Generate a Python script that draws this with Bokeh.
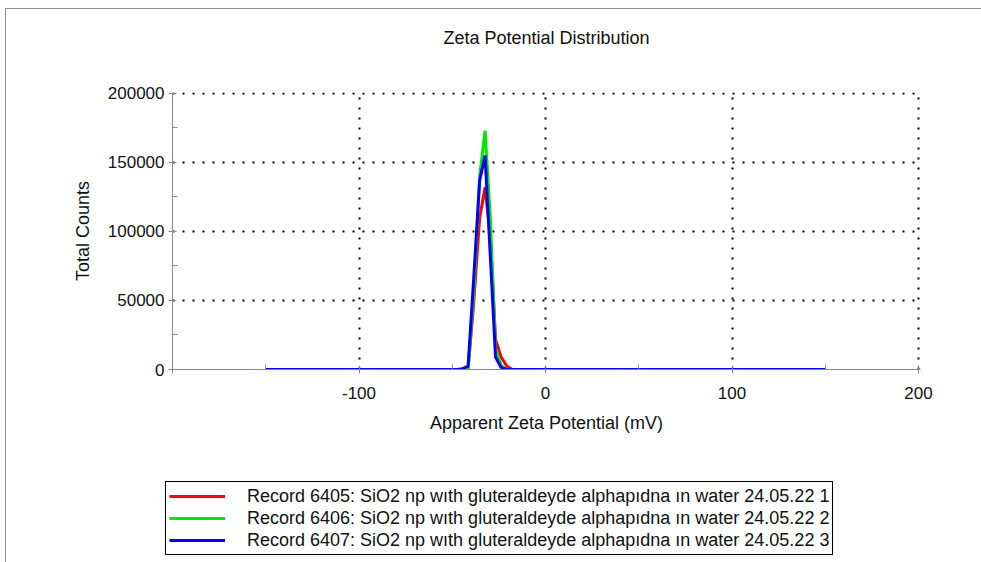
from bokeh.plotting import figure
from bokeh.layouts import column
from bokeh.models import Range1d, FixedTicker, NumeralTickFormatter, Legend, LegendItem, Title
from bokeh.embed import file_html
from bokeh.resources import INLINE

# ---- data ----
x_mv = [-150, -47.5, -44.5, -41.5, -38.5, -35.3, -32.4, -29.5, -26.8, -23.8, -20.8, -17.8, 150]
red_counts = [0, 0, 0, 500, 48000, 110000, 132000, 95000, 22000, 9000, 2500, 0, 0]
green_counts = [0, 0, 0, 1000, 55000, 140000, 173000, 108000, 15000, 3000, 0, 0, 0]
blue_counts = [0, 0, 500, 2500, 66000, 137000, 155000, 80000, 9000, 1500, 0, 0, 0]

series_names = [
    "Record 6405: SiO2 np wıth gluteraldeyde alphapıdna ın water 24.05.22 1",
    "Record 6406: SiO2 np wıth gluteraldeyde alphapıdna ın water 24.05.22 2",
    "Record 6407: SiO2 np wıth gluteraldeyde alphapıdna ın water 24.05.22 3",
]
series_colors = ["#ff0000", "#00e800", "#0000ff"]
chart_title = "Zeta Potential Distribution"

x_major = [-200, -100, 0, 100, 200]
x_minor = [-150, -50, 50, 150]
y_major = [0, 50000, 100000, 150000, 200000]
y_minor = [25000, 75000, 125000, 175000]

FONT = "Liberation Sans"
series = [red_counts, green_counts, blue_counts]

p = figure(
    frame_width=748, frame_height=277,
    min_border_left=166, min_border_right=61, min_border_top=83, min_border_bottom=110,
    x_range=Range1d(-200, 201.07), y_range=Range1d(0, 200700),
    output_backend="svg", toolbar_location=None, title=None,
)
p.outline_line_color = None
p.frame_align = False

# spacer panel next to the frame, then the visible title above it
spacer = Title(text=" ", text_font_size="2px", standoff=22)
main_title = Title(text=chart_title, text_font=FONT, text_font_size="18px",
                   text_font_style="normal", text_color="#111111",
                   align="center", offset=-47, vertical_align="top", standoff=34)
p.add_layout(spacer, "above")
p.add_layout(main_title, "above")

# axes
p.xaxis.ticker = FixedTicker(ticks=x_major, minor_ticks=x_minor)
p.yaxis.ticker = FixedTicker(ticks=y_major, minor_ticks=y_minor)
for ax in (p.xaxis, p.yaxis):
    ax.axis_line_color = "#8a8a8a"
    ax.major_tick_line_color = "#8a8a8a"
    ax.minor_tick_line_color = "#8a8a8a"
    ax.major_label_text_font = FONT
    ax.major_label_text_font_size = "17px"
    ax.major_label_text_color = "#111111"
    ax.axis_label_text_font = FONT
    ax.axis_label_text_font_size = "18px"
    ax.axis_label_text_font_style = "normal"
    ax.axis_label_text_color = "#111111"
    ax.formatter = NumeralTickFormatter(format="0")
    ax.major_tick_in = 4
    ax.major_tick_out = 4
    ax.minor_tick_in = 5
    ax.minor_tick_out = 0
p.xaxis.major_label_overrides = {-200: ""}
p.xaxis.axis_label = "Apparent Zeta Potential (mV)"
p.yaxis.axis_label = "Total Counts"
p.xaxis.major_label_standoff = 13
p.xaxis.axis_label_standoff = 11
p.yaxis.major_label_standoff = 4
p.yaxis.axis_label_standoff = 12

# grid
p.xgrid.ticker = FixedTicker(ticks=[-100, 0, 100, 200])
p.ygrid.ticker = FixedTicker(ticks=[50000, 100000, 150000, 200000])
for g in (p.xgrid, p.ygrid):
    g.grid_line_color = "#000000"
    g.grid_line_dash = "2 8"
    g.grid_line_width = 2

for ys, c in zip(series, series_colors):
    p.line(x_mv, ys, line_color=c, line_width=3)

# legend panel: a second figure holding only the legend
q = figure(
    width=975, height=83,
    min_border_left=0, min_border_right=0, min_border_top=0, min_border_bottom=0,
    x_axis_type=None, y_axis_type=None,
    output_backend="svg", toolbar_location=None, title=None,
)
q.frame_align = False
q.grid.visible = False
q.outline_line_color = None
legend_renderers = []
for ys, c in zip(series, series_colors):
    legend_renderers.append(q.line(x_mv, ys, line_color=c, line_width=3, visible=False))

legend = Legend(
    items=[LegendItem(label=n, renderers=[r]) for n, r in zip(series_names, legend_renderers)],
    location=(159, 7),
    border_line_color="#000000", border_line_width=1, border_line_alpha=1,
    background_fill_color="white", background_fill_alpha=1,
    inactive_fill_alpha=0,
    label_text_font=FONT, label_text_font_size="18px", label_text_color="#111111",
    glyph_width=56, glyph_height=22, label_height=22, label_standoff=22,
    spacing=0, padding=3, margin=0,
)
q.add_layout(legend, "center")

layout = column(p, q, spacing=0)
layout.styles = {"margin-left": "5px", "margin-top": "8px",
                 "border-top": "1px solid #8f8f8f", "border-left": "1px solid #8f8f8f"}

open("out.html", "w").write(file_html(layout, INLINE))
